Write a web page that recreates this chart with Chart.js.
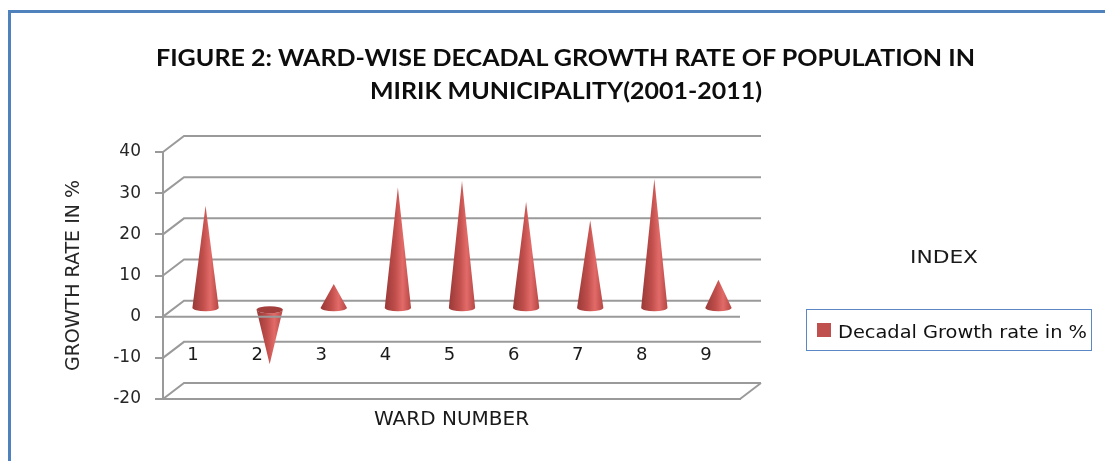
<!DOCTYPE html>
<html lang="en">
<head>
    <meta charset="UTF-8">
    <title>Ward-wise Decadal Growth Rate - Mirik Municipality</title>
    <script src="https://cdn.jsdelivr.net/npm/chart.js"></script>
    <style>
        body { margin: 0; background: #fff; }
        .wrap { position: relative; width: 1105px; height: 461px; overflow: hidden; }

        /* blue frame, only top and left edges show */
        .frame {
            position: absolute; left: 8px; top: 10px; width: 1200px; height: 600px;
            border-left: 3px solid #4f81bd; border-top: 3px solid #4f81bd;
        }

        canvas { position: absolute; left: 0; top: 0; }

        .fit { position: absolute; white-space: nowrap; transform-origin: left center; line-height: 1; }
        .title { font: bold 22px "Lato", sans-serif; color: #0d0d0d; }
        .index { font: 18px "DejaVu Sans", sans-serif; color: #1a1a1a; }

        .legend-box {
            position: absolute; left: 806px; top: 309px; width: 284px; height: 40px;
            border: 1px solid #5b87c5;
        }
        .legend-swatch { position: absolute; left: 817px; top: 323px; width: 14px; height: 14px; background: #c0504d; }
        .legend-text { font: 18px "DejaVu Sans", sans-serif; color: #111; }
    </style>
</head>
<body>
<div class="wrap">
    <div class="frame"></div>
    <canvas id="growthChart" width="1105" height="461"></canvas>

    <span class="fit title" id="t1" style="left:156px; top:44px;">FIGURE 2: WARD-WISE DECADAL GROWTH RATE OF POPULATION IN</span>
    <span class="fit title" id="t2" style="left:370px; top:77px;">MIRIK MUNICIPALITY(2001-2011)</span>

    <span class="fit index" id="idx" style="left:910px; top:246px;">INDEX</span>
    <div class="legend-box"></div>
    <div class="legend-swatch"></div>
    <span class="fit legend-text" id="lg" style="left:838px; top:321px;">Decadal Growth rate in %</span>
</div>

<script>
    // ward numbers and decadal growth (%) 2001-2011
    const wards = ['1', '2', '3', '4', '5', '6', '7', '8', '9'];
    const growthRate = [25, -13.5, 6, 29.5, 31, 26, 21.5, 31.5, 7];
    const yTicks = [-20, -10, 0, 10, 20, 30, 40];

    // depth offset of the back wall
    const DEPTH_X = 21;
    const DEPTH_Y = -16;
    const GRID = '#9a9a9a';
    const FONT = 'DejaVu Sans';

    function line(ctx, pts) {
        ctx.beginPath();
        ctx.moveTo(pts[0][0], pts[0][1]);
        for (let i = 1; i < pts.length; i++) ctx.lineTo(pts[i][0], pts[i][1]);
        ctx.stroke();
    }

    // back wall gridlines + diagonals + floor edge
    const wallPlugin = {
        id: 'wall3d',
        beforeDatasetsDraw(chart) {
            const { ctx, chartArea: a, scales: { y } } = chart;
            ctx.save();
            ctx.strokeStyle = GRID;
            ctx.lineWidth = 2;
            y.ticks.forEach(t => {
                const py = y.getPixelForValue(t.value);
                line(ctx, [[a.left, py], [a.left + DEPTH_X, py + DEPTH_Y], [a.right + DEPTH_X, py + DEPTH_Y]]);
            });
            line(ctx, [[a.right, a.bottom], [a.right + DEPTH_X, a.bottom + DEPTH_Y]]);
            ctx.restore();
        }
    };

    // cones drawn from the bar elements, then the front zero line and ward labels
    const conePlugin = {
        id: 'cones',
        afterDatasetsDraw(chart) {
            const { ctx, chartArea: a, scales: { x, y } } = chart;
            const meta = chart.getDatasetMeta(0);
            ctx.save();
            meta.data.forEach(bar => {
                const cx = bar.x + DEPTH_X / 2;
                const tip = bar.y + DEPTH_Y / 2;
                const base = bar.base + DEPTH_Y / 2;
                const r = bar.width / 2;
                const ry = 3.5;

                const g = ctx.createLinearGradient(cx - r, 0, cx + r, 0);
                g.addColorStop(0, '#983a38');
                g.addColorStop(0.4, '#c04e4b');
                g.addColorStop(0.68, '#e26b68');
                g.addColorStop(1, '#b54644');
                ctx.fillStyle = g;

                ctx.beginPath();
                ctx.moveTo(cx - r, base);
                ctx.lineTo(cx, tip);
                ctx.lineTo(cx + r, base);
                ctx.ellipse(cx, base, r, ry, 0, 0, Math.PI);
                ctx.closePath();
                ctx.fill();

                // downward cone shows its top face
                if (tip > base) {
                    ctx.fillStyle = '#a23f3d';
                    ctx.beginPath();
                    ctx.ellipse(cx, base, r, ry, 0, 0, Math.PI * 2);
                    ctx.fill();
                }
            });

            // front edge of the zero plane
            const y0 = y.getPixelForValue(0);
            ctx.strokeStyle = GRID;
            ctx.lineWidth = 2;
            line(ctx, [[a.left, y0], [a.right, y0]]);

            // ward labels sit below the zero plane
            ctx.fillStyle = '#1a1a1a';
            ctx.font = '18px "' + FONT + '"';
            ctx.textAlign = 'center';
            ctx.textBaseline = 'middle';
            wards.forEach((w, i) => {
                ctx.fillText(w, x.getPixelForTick(i) - 2, y0 + 39);
            });
            ctx.restore();
        }
    };

    new Chart(document.getElementById('growthChart'), {
        type: 'bar',
        data: {
            labels: wards,
            datasets: [{
                label: 'Decadal Growth rate in %',
                data: growthRate,
                backgroundColor: 'rgba(0,0,0,0)',
                borderWidth: 0,
                categoryPercentage: 1,
                barPercentage: 0.41
            }]
        },
        options: {
            responsive: false,
            animation: false,
            layout: { padding: { left: 50, top: 152, right: 365, bottom: 0 } },
            plugins: {
                legend: { display: false },
                title: { display: false },
                tooltip: { enabled: false }
            },
            scales: {
                x: {
                    offset: true,
                    grid: { display: false },
                    border: { display: true, color: GRID, width: 2 },
                    ticks: { display: false },
                    title: {
                        display: true,
                        text: 'WARD NUMBER',
                        color: '#1a1a1a',
                        font: { family: FONT, size: 20 },
                        padding: { top: 0, bottom: 29 }
                    },
                    afterFit: s => { s.height = 62; }
                },
                y: {
                    min: yTicks[0],
                    max: yTicks[yTicks.length - 1],
                    ticks: {
                        stepSize: 10,
                        color: '#262626',
                        padding: 14,
                        font: { family: FONT, size: 17 }
                    },
                    grid: { drawOnChartArea: false, drawTicks: true, tickLength: 8, color: GRID, lineWidth: 2 },
                    border: { display: true, color: GRID, width: 2 },
                    title: {
                        display: true,
                        text: 'GROWTH RATE IN %',
                        color: '#262626',
                        font: { family: FONT, size: 19 },
                        padding: { top: 13, bottom: 0 }
                    },
                    afterFit: s => { s.width = 113; }
                }
            }
        },
        plugins: [wallPlugin, conePlugin]
    });

    // stretch the html labels to their set widths
    function fitWidth(id, target) {
        const el = document.getElementById(id);
        const w = el.getBoundingClientRect().width;
        el.style.transform = 'scaleX(' + (target / w) + ')';
    }
    fitWidth('t1', 819);
    fitWidth('t2', 392);
    fitWidth('idx', 68);
    fitWidth('lg', 249);
</script>
</body>
</html>
